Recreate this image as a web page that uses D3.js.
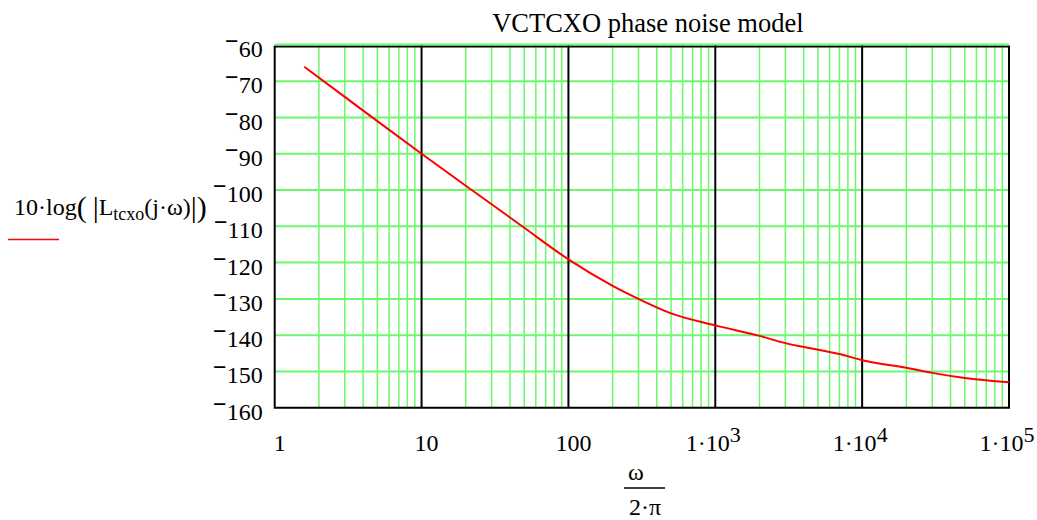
<!DOCTYPE html>
<meta charset="utf-8">
<style>
    body { margin: 0; background: #fff; }
    svg { display: block; }
    text { font-family: "Liberation Serif", "Times New Roman", serif; fill: #000; }
</style>

<script src="https://d3js.org/d3.v7.min.js"></script>

<svg id="chart" width="1037" height="520"></svg>

<script>

// Data

var title = 'VCTCXO phase noise model';

var freq    = [1.59, 3, 5, 10, 20, 30, 50, 100, 200, 300, 500, 1000, 2000, 3000, 5000, 7000, 10000, 20000, 30000, 50000, 100000];
var noiseDb = [-66, -74.3, -81, -90, -98.8, -103.9, -110.4, -119.1, -126.4, -130, -134, -137.3, -140.2, -142.2, -144, -145.2, -146.9, -149, -150.4, -151.8, -153];

var yTicks = [-60, -70, -80, -90, -100, -110, -120, -130, -140, -150, -160];
var xTicks = [1, 10, 100, 1000, 10000, 100000];
var xTickBase = ['1', '10', '100', '1\u00b710', '1\u00b710', '1\u00b710'];
var xTickExp  = ['', '', '', '3', '4', '5'];


// Setup

var svg = d3.select('svg#chart');

var plotLeft = 274.7, plotRight = 1009, plotTop = 45, plotBottom = 407.7;

var x = d3.scaleLog().domain([1, 1e5]).range([plotLeft, plotRight]);
var y = d3.scaleLinear().domain([-160, -60]).range([plotBottom, plotTop]);

var green = '#6cf86c';
var fontSize = 24;


// Grid

var minor = x.ticks().filter(function(d) { return xTicks.indexOf(d) < 0; });
var major = xTicks.slice(1, -1);

svg.append('g')
    .selectAll('line')
    .data(minor)
    .join('line')
    .attr('x1', function(d) { return x(d); })
    .attr('x2', function(d) { return x(d); })
    .attr('y1', plotTop)
    .attr('y2', plotBottom)
    .attr('stroke', green)
    .attr('stroke-width', 1.5);

svg.append('g')
    .selectAll('line')
    .data(yTicks.slice(1, -1))
    .join('line')
    .attr('x1', plotLeft)
    .attr('x2', plotRight)
    .attr('y1', function(d) { return y(d); })
    .attr('y2', function(d) { return y(d); })
    .attr('stroke', green)
    .attr('stroke-width', 2);

svg.append('g')
    .selectAll('line')
    .data(major)
    .join('line')
    .attr('x1', function(d) { return x(d); })
    .attr('x2', function(d) { return x(d); })
    .attr('y1', plotTop)
    .attr('y2', plotBottom)
    .attr('stroke', '#000')
    .attr('stroke-width', 2);

// frame: black box, green line on the top edge
svg.append('path')
    .attr('d', 'M' + plotLeft + ',' + (plotTop + 1.5) + 'H' + plotRight + 'V' + plotBottom + 'H' + plotLeft + 'Z')
    .attr('fill', 'none')
    .attr('stroke', '#000')
    .attr('stroke-width', 2);

svg.append('line')
    .attr('x1', plotLeft).attr('x2', plotRight)
    .attr('y1', y(-60) - 0.5).attr('y2', y(-60) - 0.5)
    .attr('stroke', green)
    .attr('stroke-width', 2);


// Curve

var line = d3.line()
    .x(function(d) { return x(d[0]); })
    .y(function(d) { return y(d[1]); })
    .curve(d3.curveMonotoneX);

svg.append('path')
    .datum(d3.zip(freq, noiseDb))
    .attr('d', line)
    .attr('fill', 'none')
    .attr('stroke', '#ff0000')
    .attr('stroke-width', 2);


// Y tick labels (Mathcad style raised minus)

var yLab = svg.append('g')
    .selectAll('text')
    .data(yTicks)
    .join('text')
    .attr('x', plotLeft - 12)
    .attr('y', function(d) { return y(d) + 12; })
    .attr('text-anchor', 'end')
    .style('font-size', fontSize + 'px');

yLab.append('tspan')
    .attr('dy', -8)
    .style('font-weight', 'bold')
    .text('\u2212');
yLab.append('tspan')
    .attr('dy', 8)
    .text(function(d) { return Math.abs(d); });


// X tick labels

var xLab = svg.append('g')
    .selectAll('text')
    .data(xTicks)
    .join('text')
    .attr('x', function(d, i) { return x(d) + (xTickExp[i] ? -2 : 5); })
    .attr('y', 451)
    .attr('text-anchor', 'middle')
    .style('font-size', fontSize + 'px');

xLab.append('tspan')
    .text(function(d, i) { return xTickBase[i]; });
xLab.append('tspan')
    .attr('dy', -9)
    .style('font-size', '22px')
    .text(function(d, i) { return xTickExp[i]; });


// Title

svg.append('text')
    .attr('x', (plotLeft + plotRight) / 2 + 6)
    .attr('y', 32)
    .attr('text-anchor', 'middle')
    .style('font-size', '26.5px')
    .text(title);


// X axis label: omega over 2*pi

var xc = 645;
svg.append('text')
    .attr('x', xc - 9).attr('y', 480)
    .attr('text-anchor', 'middle')
    .style('font-size', fontSize + 'px')
    .text('\u03c9');
svg.append('line')
    .attr('x1', xc - 21).attr('x2', xc + 20)
    .attr('y1', 488).attr('y2', 488)
    .attr('stroke', '#000')
    .attr('stroke-width', 1.5);
svg.append('text')
    .attr('x', xc).attr('y', 515)
    .attr('text-anchor', 'middle')
    .style('font-size', fontSize + 'px')
    .text('2\u00b7\u03c0');


// Legend: expression with red sample line

var leg = svg.append('text')
    .attr('x', 14)
    .attr('y', 215)
    .style('font-size', fontSize + 'px');

leg.append('tspan').text('10\u00b7log');
leg.append('tspan').style('font-size', '30px').attr('dy', 2).text('(');
leg.append('tspan').style('font-size', '30px').text('\u2009|');
leg.append('tspan').attr('dy', -2).text('L');
leg.append('tspan').style('font-size', '18px').attr('dy', 5).text('tcxo');
leg.append('tspan').attr('dy', -5).text('(j\u00b7\u03c9)');
leg.append('tspan').style('font-size', '30px').attr('dy', 2).text('|)');

svg.append('line')
    .attr('x1', 8).attr('x2', 59)
    .attr('y1', 239.5).attr('y2', 239.5)
    .attr('stroke', '#ff0000')
    .attr('stroke-width', 1.5);

</script>
